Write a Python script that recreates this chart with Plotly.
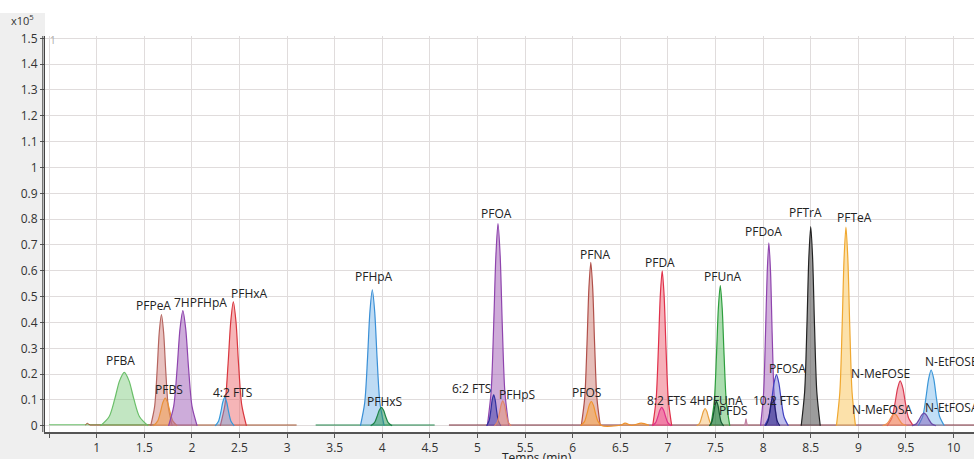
import plotly.graph_objects as go

# chromatogram peaks, time (min) / intensity (x10^5)
names = ["PFBA", "PFPeA", "PFBS", "7HPFHpA", "PFHxA", "4:2 FTS", "PFHpA", "PFHxS",
         "PFOA", "6:2 FTS", "PFHpS", "PFNA", "PFOS", "PFDA", "8:2 FTS", "4HPFUnA",
         "PFUnA", "", "PFDS", "PFDoA", "PFOSA", "10:2 FTS", "PFTrA", "PFTeA",
         "N-MeFOSE", "N-MeFOSA", "N-EtFOSE", "N-EtFOSA"]

t_pfba = [1.04, 1.13, 1.19, 1.24, 1.29, 1.34, 1.39, 1.45, 1.54]
i_pfba = [0, 0.035, 0.104, 0.174, 0.207, 0.174, 0.104, 0.035, 0]
t_pfpea = [1.567, 1.608, 1.635, 1.657, 1.68, 1.703, 1.725, 1.752, 1.793]
i_pfpea = [0, 0.073, 0.215, 0.361, 0.43, 0.361, 0.215, 0.073, 0]
t_pfbs = [1.595, 1.64, 1.67, 1.695, 1.72, 1.745, 1.77, 1.80, 1.845]
i_pfbs = [0, 0.018, 0.054, 0.09, 0.107, 0.09, 0.054, 0.018, 0]
t_7hpfhpa = [1.755, 1.809, 1.845, 1.875, 1.905, 1.935, 1.965, 2.001, 2.055]
i_7hpfhpa = [0, 0.076, 0.223, 0.375, 0.446, 0.375, 0.223, 0.076, 0]
t_pfhxa = [2.298, 2.347, 2.38, 2.408, 2.435, 2.463, 2.49, 2.523, 2.573]
i_pfhxa = [0, 0.082, 0.24, 0.403, 0.48, 0.403, 0.24, 0.082, 0]
t_42fts = [2.245, 2.281, 2.305, 2.325, 2.345, 2.365, 2.385, 2.409, 2.445]
i_42fts = [0, 0.019, 0.055, 0.092, 0.11, 0.092, 0.055, 0.019, 0]
t_pfhpa = [3.77, 3.815, 3.845, 3.87, 3.895, 3.92, 3.945, 3.975, 4.02]
i_pfhpa = [0, 0.089, 0.263, 0.442, 0.526, 0.442, 0.263, 0.089, 0]
t_pfhxs = [3.878, 3.918, 3.945, 3.968, 3.99, 4.013, 4.035, 4.062, 4.103]
i_pfhxs = [0, 0.012, 0.036, 0.06, 0.071, 0.06, 0.036, 0.012, 0]
t_pfoa = [5.103, 5.143, 5.17, 5.193, 5.215, 5.238, 5.26, 5.287, 5.328]
i_pfoa = [0, 0.133, 0.392, 0.658, 0.783, 0.658, 0.392, 0.133, 0]
t_62fts = [5.095, 5.122, 5.14, 5.155, 5.17, 5.185, 5.2, 5.218, 5.245]
i_62fts = [0, 0.02, 0.06, 0.101, 0.12, 0.101, 0.06, 0.02, 0]
t_pfhps = [5.178, 5.209, 5.23, 5.248, 5.265, 5.283, 5.3, 5.321, 5.353]
i_pfhps = [0, 0.016, 0.049, 0.081, 0.097, 0.081, 0.049, 0.016, 0]
t_pfna = [6.09, 6.126, 6.15, 6.17, 6.19, 6.21, 6.23, 6.254, 6.29]
i_pfna = [0, 0.108, 0.317, 0.532, 0.633, 0.532, 0.317, 0.108, 0]
t_pfos = [6.083, 6.123, 6.15, 6.173, 6.195, 6.218, 6.24, 6.267, 6.308, 6.5, 6.55, 6.62, 6.72, 6.8]
i_pfos = [0, 0.016, 0.047, 0.079, 0.094, 0.079, 0.047, 0.016, 0, 0.002, 0.01, 0.002, 0.01, 0.002]
t_pfda = [6.84, 6.876, 6.9, 6.92, 6.94, 6.96, 6.98, 7.004, 7.04]
i_pfda = [0, 0.102, 0.3, 0.504, 0.6, 0.504, 0.3, 0.102, 0]
t_82fts = [6.835, 6.871, 6.895, 6.915, 6.935, 6.955, 6.975, 6.999, 7.035]
i_82fts = [0, 0.012, 0.036, 0.06, 0.071, 0.06, 0.036, 0.012, 0]
t_4hpfuna = [7.303, 7.334, 7.355, 7.373, 7.39, 7.408, 7.425, 7.446, 7.478]
i_4hpfuna = [0, 0.011, 0.034, 0.056, 0.067, 0.056, 0.034, 0.011, 0]
t_pfuna = [7.45, 7.486, 7.51, 7.53, 7.55, 7.57, 7.59, 7.614, 7.65]
i_pfuna = [0, 0.092, 0.272, 0.456, 0.543, 0.456, 0.272, 0.092, 0]
t_minor = [7.435, 7.462, 7.48, 7.495, 7.51, 7.525, 7.54, 7.558, 7.585]
i_minor = [0, 0.016, 0.048, 0.08, 0.095, 0.08, 0.048, 0.016, 0]
t_pfds = [7.805, 7.814, 7.82, 7.826, 7.835]
i_pfds = [0, 0.014, 0.027, 0.014, 0]
t_pfdoa = [7.973, 8.004, 8.025, 8.043, 8.06, 8.078, 8.095, 8.116, 8.148]
i_pfdoa = [0, 0.12, 0.354, 0.595, 0.708, 0.595, 0.354, 0.12, 0]
t_pfosa = [8.015, 8.06, 8.09, 8.115, 8.14, 8.165, 8.19, 8.22, 8.265]
i_pfosa = [0, 0.034, 0.099, 0.166, 0.198, 0.166, 0.099, 0.034, 0]
t_102fts = [8.025, 8.052, 8.07, 8.085, 8.1, 8.115, 8.13, 8.148, 8.175]
i_102fts = [0, 0.019, 0.055, 0.092, 0.11, 0.092, 0.055, 0.019, 0]
t_pftra = [8.40, 8.436, 8.46, 8.48, 8.5, 8.52, 8.54, 8.564, 8.6]
i_pftra = [0, 0.131, 0.386, 0.648, 0.771, 0.648, 0.386, 0.131, 0]
t_pftea = [8.77, 8.806, 8.83, 8.85, 8.87, 8.89, 8.91, 8.934, 8.97]
i_pftea = [0, 0.131, 0.385, 0.646, 0.769, 0.646, 0.385, 0.131, 0]
t_nmefose = [9.303, 9.352, 9.385, 9.413, 9.44, 9.468, 9.495, 9.528, 9.578]
i_nmefose = [0, 0.03, 0.087, 0.146, 0.174, 0.146, 0.087, 0.03, 0]
t_nmefosa = [9.255, 9.3, 9.33, 9.355, 9.38, 9.405, 9.43, 9.46, 9.505]
i_nmefosa = [0, 0.008, 0.023, 0.039, 0.046, 0.039, 0.023, 0.008, 0]
t_netfose = [9.628, 9.677, 9.71, 9.738, 9.765, 9.793, 9.82, 9.853, 9.903]
i_netfose = [0, 0.037, 0.108, 0.181, 0.216, 0.181, 0.108, 0.037, 0]
t_netfosa = [9.565, 9.61, 9.64, 9.665, 9.69, 9.715, 9.74, 9.77, 9.815]
i_netfosa = [0, 0.008, 0.025, 0.041, 0.049, 0.041, 0.025, 0.008, 0]

times = [t_pfba, t_pfpea, t_pfbs, t_7hpfhpa, t_pfhxa, t_42fts, t_pfhpa, t_pfhxs,
         t_pfoa, t_62fts, t_pfhps, t_pfna, t_pfos, t_pfda, t_82fts, t_4hpfuna,
         t_pfuna, t_minor, t_pfds, t_pfdoa, t_pfosa, t_102fts, t_pftra, t_pftea,
         t_nmefose, t_nmefosa, t_netfose, t_netfosa]
intens = [i_pfba, i_pfpea, i_pfbs, i_7hpfhpa, i_pfhxa, i_42fts, i_pfhpa, i_pfhxs,
          i_pfoa, i_62fts, i_pfhps, i_pfna, i_pfos, i_pfda, i_82fts, i_4hpfuna,
          i_pfuna, i_minor, i_pfds, i_pfdoa, i_pfosa, i_102fts, i_pftra, i_pftea,
          i_nmefose, i_nmefosa, i_netfose, i_netfosa]

# baselines between peaks
base_t = [[0.5, 1.6], [0.88, 0.9, 0.93, 1.1, 3.1], [3.3, 4.55], [4.7, 10.25]]
base_i = [[0.004, 0.004], [0.003, 0.01, 0.003, 0.003, 0.003], [0.003, 0.003], [0.003, 0.003]]
base_colors = ["#6abf69", "#a0522d", "#1e8449", "#7b2d3a"]

line_colors = ["#6abf69", "#b5655f", "#e8903a", "#8e44ad", "#d9363e", "#3498db", "#3a8fd6", "#1e8449",
               "#8e44ad", "#3030a0", "#e0876a", "#b0504a", "#f0922a", "#e0304a", "#e0308a", "#e8a040",
               "#2e9e3e", "#145a32", "#c080a0", "#8e44ad", "#4040c0", "#202070", "#222222", "#f0a830",
               "#d93a50", "#f09050", "#3a96d8", "#6a4aa8"]
fill_colors = ["rgba(120,200,120,0.45)", "rgba(205,120,115,0.45)", "rgba(240,160,80,0.55)",
               "rgba(155,89,182,0.5)", "rgba(235,90,95,0.45)", "rgba(100,170,230,0.4)",
               "rgba(110,175,230,0.45)", "rgba(40,150,80,0.5)", "rgba(160,90,180,0.5)",
               "rgba(60,60,170,0.5)", "rgba(235,150,110,0.5)", "rgba(200,110,100,0.45)",
               "rgba(245,165,75,0.55)", "rgba(235,80,100,0.45)", "rgba(235,80,150,0.5)",
               "rgba(245,190,110,0.5)", "rgba(70,180,80,0.45)", "rgba(30,110,60,0.5)",
               "rgba(200,130,160,0.4)", "rgba(165,100,185,0.5)", "rgba(110,110,210,0.45)",
               "rgba(40,40,130,0.5)", "rgba(90,90,90,0.6)", "rgba(250,200,100,0.55)",
               "rgba(235,100,115,0.45)", "rgba(245,160,100,0.5)", "rgba(120,185,235,0.45)",
               "rgba(130,100,190,0.5)"]
# label offsets from the apex, in pixels
label_dx = [-4, -8, 4, 18, 16, 8, 2, 3, -1, -22, 14, 4, -5, -2, 5, 11,
            3, 0, -12, -5, 11, 3, -5, 9, -20, -12, 20, 28]
label_dy = [12, 9, 9, 8, 8, 5, 13, 6, 10, 6, 6, 8, 9, 8, 7, 8,
            9, 0, 8, 11, 6, -3, 14, 10, 7, 4, 9, 6]

x_ticks = [0.5, 1, 1.5, 2, 2.5, 3, 3.5, 4, 4.5, 5, 5.5, 6, 6.5, 7, 7.5, 8, 8.5, 9, 9.5, 10]
x_labels = [""] + ["1", "1.5", "2", "2.5", "3", "3.5", "4", "4.5", "5", "5.5", "6", "6.5",
                   "7", "7.5", "8", "8.5", "9", "9.5", "10"]
y_ticks = [0, 0.1, 0.2, 0.3, 0.4, 0.5, 0.6, 0.7, 0.8, 0.9, 1, 1.1, 1.2, 1.3, 1.4, 1.5]
y_labels = ["0", "0.1", "0.2", "0.3", "0.4", "0.5", "0.6", "0.7", "0.8", "0.9",
            "1", "1.1", "1.2", "1.3", "1.4", "1.5"]

font = "Open Sans, Noto Sans, sans-serif"
fig = go.Figure()

for bt, bi, c in zip(base_t, base_i, base_colors):
    fig.add_trace(go.Scatter(x=bt, y=bi, mode="lines", line=dict(color=c, width=1),
                             showlegend=False, hoverinfo="skip"))

for t, i, lc, fc in zip(times, intens, line_colors, fill_colors):
    fig.add_trace(go.Scatter(x=t, y=i, mode="lines", fill="tozeroy", fillcolor=fc,
                             line=dict(color=lc, width=1.2, shape="spline", smoothing=0.8),
                             showlegend=False))

annotations = []
for name, t, i, dx, dy in zip(names, times, intens, label_dx, label_dy):
    if not name:
        continue
    k = i.index(max(i))
    annotations.append(dict(x=t[k], y=i[k], text=name, showarrow=False,
                            xshift=dx, yshift=dy, xanchor="center", yanchor="middle",
                            font=dict(family=font, size=12, color="#222222")))

annotations.append(dict(xref="paper", yref="paper", x=-0.024, y=1.04, text="x10<sup>5</sup>",
                        showarrow=False, xanchor="center", yanchor="middle",
                        font=dict(family=font, size=11, color="#333333")))
annotations.append(dict(xref="x", yref="paper", x=5.62, y=-0.064, text="Temps (min)",
                        showarrow=False, xanchor="center", yanchor="middle",
                        font=dict(family=font, size=12, color="#222222")))
annotations.append(dict(xref="paper", yref="paper", x=0.003, y=0.99, text="1",
                        showarrow=False, xanchor="left", yanchor="middle",
                        font=dict(family=font, size=10, color="#aaaaaa")))

shapes = [
    # white strip along the very top, and above the plot area
    dict(type="rect", xref="paper", yref="paper", x0=-45 / 929, x1=1.0, y0=419 / 396, y1=1.1,
         fillcolor="white", line=dict(width=0), layer="below"),
    dict(type="rect", xref="paper", yref="paper", x0=0, x1=1.0, y0=1.0, y1=1.1,
         fillcolor="white", line=dict(width=0), layer="below"),
    # second y-axis line
    dict(type="line", xref="paper", yref="paper", x0=-2.2 / 929, x1=-2.2 / 929, y0=0, y1=1.0,
         line=dict(color="#444444", width=1)),
]

fig.update_layout(
    template="none",
    width=974, height=459,
    margin=dict(l=45, r=0, t=36, b=27, autoexpand=False),
    paper_bgcolor="#efefef", plot_bgcolor="white",
    font=dict(family=font, size=12, color="#444444"),
    annotations=annotations, shapes=shapes,
    xaxis=dict(range=[0.457, 10.215], tickvals=x_ticks, ticktext=x_labels, automargin=False,
               showgrid=True, gridcolor="#e0dcdc", gridwidth=1, zeroline=False,
               showline=True, linecolor="#555555", linewidth=2,
               ticks="outside", ticklen=4, tickcolor="#555555",
               tickfont=dict(family=font, size=12, color="#333333")),
    yaxis=dict(range=[-0.024, 1.509], tickvals=y_ticks, ticktext=y_labels, automargin=False,
               showgrid=True, gridcolor="#e0dcdc", gridwidth=1, zeroline=False,
               showline=True, linecolor="#444444", linewidth=1,
               ticks="outside", ticklen=4, tickcolor="#555555",
               tickfont=dict(family=font, size=12, color="#333333")),
)

fig.write_html("out.html", config={"displayModeBar": False},
               post_script="document.body.style.margin='0';")
